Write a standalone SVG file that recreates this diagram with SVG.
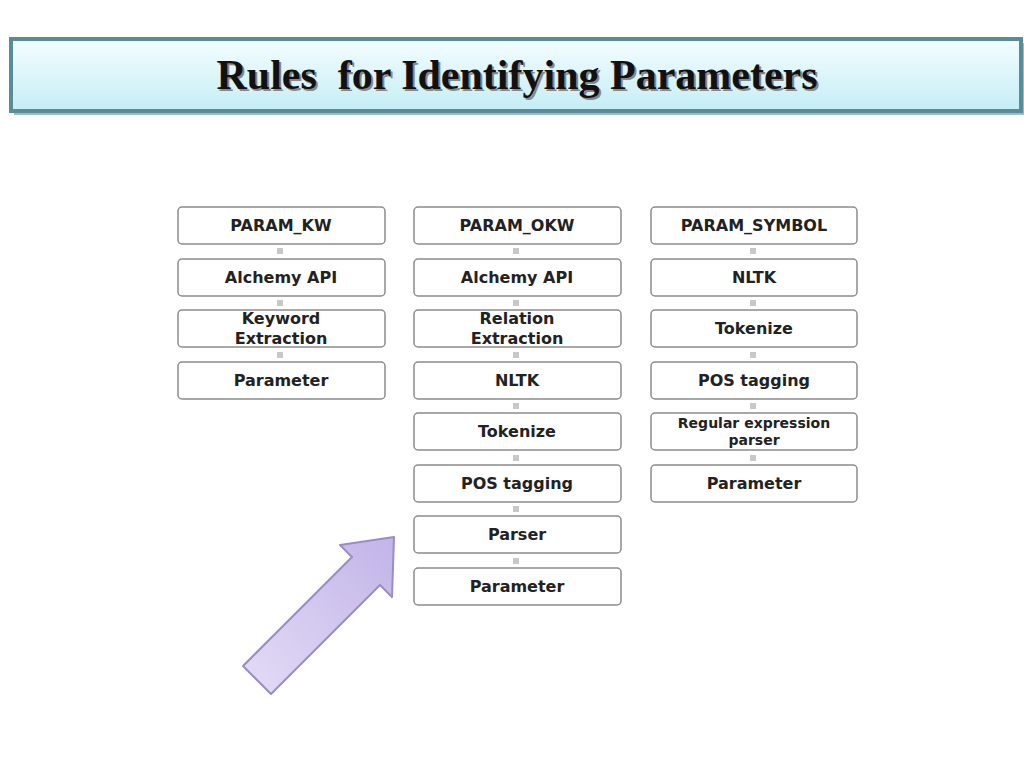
<svg xmlns="http://www.w3.org/2000/svg" width="1024" height="768" viewBox="0 0 1024 768">
<defs>
<linearGradient id="tg" x1="0" y1="0" x2="0" y2="1"><stop offset="0" stop-color="#f4fdff"/><stop offset="1" stop-color="#c4eef5"/></linearGradient>
<linearGradient id="ag" x1="0" y1="1" x2="1" y2="0"><stop offset="0" stop-color="#e4dcf6"/><stop offset="1" stop-color="#c2b4e8"/></linearGradient>
<style>
.n rect{fill:#fff;stroke:#8c8c8c;stroke-width:1.5}
.n text{font-family:"DejaVu Sans",sans-serif;font-weight:bold;font-size:16px;fill:#222;text-anchor:middle}
.c rect{fill:#c8c8c8}
</style>
</defs>
<rect width="1024" height="768" fill="#fff"/>
<g id="title">
<rect x="14" y="43" width="1010" height="72" fill="#5f8f9c" opacity="0.6"/>
<rect x="11" y="39" width="1010" height="72" fill="url(#tg)" stroke="#5a8c98" stroke-width="4"/>
<text x="519" y="91" xml:space="preserve" font-family="Liberation Serif,serif" font-weight="bold" font-size="42" fill="#888" text-anchor="middle">Rules  for Identifying Parameters</text>
<text x="517" y="89" xml:space="preserve" font-family="Liberation Serif,serif" font-weight="bold" font-size="42" fill="#111" text-anchor="middle">Rules  for Identifying Parameters</text>
</g>
<g class="c" id="connectors">
<rect x="277" y="248" width="6" height="6"/><rect x="277" y="300" width="6" height="6"/><rect x="277" y="352" width="6" height="6"/>
<rect x="513" y="248" width="6" height="6"/><rect x="513" y="300" width="6" height="6"/><rect x="513" y="352" width="6" height="6"/><rect x="513" y="403" width="6" height="6"/><rect x="513" y="455" width="6" height="6"/><rect x="513" y="506" width="6" height="6"/><rect x="513" y="558" width="6" height="6"/>
<rect x="750" y="248" width="6" height="6"/><rect x="750" y="300" width="6" height="6"/><rect x="750" y="352" width="6" height="6"/><rect x="750" y="403" width="6" height="6"/><rect x="750" y="455" width="6" height="6"/>
</g>
<g class="n" id="kw1"><rect x="178" y="207" width="207" height="37" rx="4"/><text x="281" y="231">PARAM_KW</text></g>
<g class="n" id="kw2"><rect x="178" y="259" width="207" height="37" rx="4"/><text x="281" y="283">Alchemy API</text></g>
<g class="n" id="kw3"><rect x="178" y="310" width="207" height="37" rx="4"/><text x="281" y="324">Keyword</text><text x="281" y="344">Extraction</text></g>
<g class="n" id="kw4"><rect x="178" y="362" width="207" height="37" rx="4"/><text x="281" y="386">Parameter</text></g>
<g class="n" id="ok1"><rect x="414" y="207" width="207" height="37" rx="4"/><text x="517" y="231">PARAM_OKW</text></g>
<g class="n" id="ok2"><rect x="414" y="259" width="207" height="37" rx="4"/><text x="517" y="283">Alchemy API</text></g>
<g class="n" id="ok3"><rect x="414" y="310" width="207" height="37" rx="4"/><text x="517" y="324">Relation</text><text x="517" y="344">Extraction</text></g>
<g class="n" id="ok4"><rect x="414" y="362" width="207" height="37" rx="4"/><text x="517" y="386">NLTK</text></g>
<g class="n" id="ok5"><rect x="414" y="413" width="207" height="37" rx="4"/><text x="517" y="437">Tokenize</text></g>
<g class="n" id="ok6"><rect x="414" y="465" width="207" height="37" rx="4"/><text x="517" y="489">POS tagging</text></g>
<g class="n" id="ok7"><rect x="414" y="516" width="207" height="37" rx="4"/><text x="517" y="540">Parser</text></g>
<g class="n" id="ok8"><rect x="414" y="568" width="207" height="37" rx="4"/><text x="517" y="592">Parameter</text></g>
<g class="n" id="sy1"><rect x="651" y="207" width="206" height="37" rx="4"/><text x="754" y="231">PARAM_SYMBOL</text></g>
<g class="n" id="sy2"><rect x="651" y="259" width="206" height="37" rx="4"/><text x="754" y="283">NLTK</text></g>
<g class="n" id="sy3"><rect x="651" y="310" width="206" height="37" rx="4"/><text x="754" y="334">Tokenize</text></g>
<g class="n" id="sy4"><rect x="651" y="362" width="206" height="37" rx="4"/><text x="754" y="386">POS tagging</text></g>
<g class="n" id="sy5"><rect x="651" y="413" width="206" height="37" rx="4"/><text x="754" y="428" style="font-size:14px">Regular expression</text><text x="754" y="445" style="font-size:14px">parser</text></g>
<g class="n" id="sy6"><rect x="651" y="465" width="206" height="37" rx="4"/><text x="754" y="489">Parameter</text></g>
<g id="arrow"><polygon points="243,666 352,557 340,545 394,537 392,597 380,585 271,694" fill="url(#ag)" stroke="#9a8cc6" stroke-width="2" stroke-linejoin="round"/></g>
</svg>
